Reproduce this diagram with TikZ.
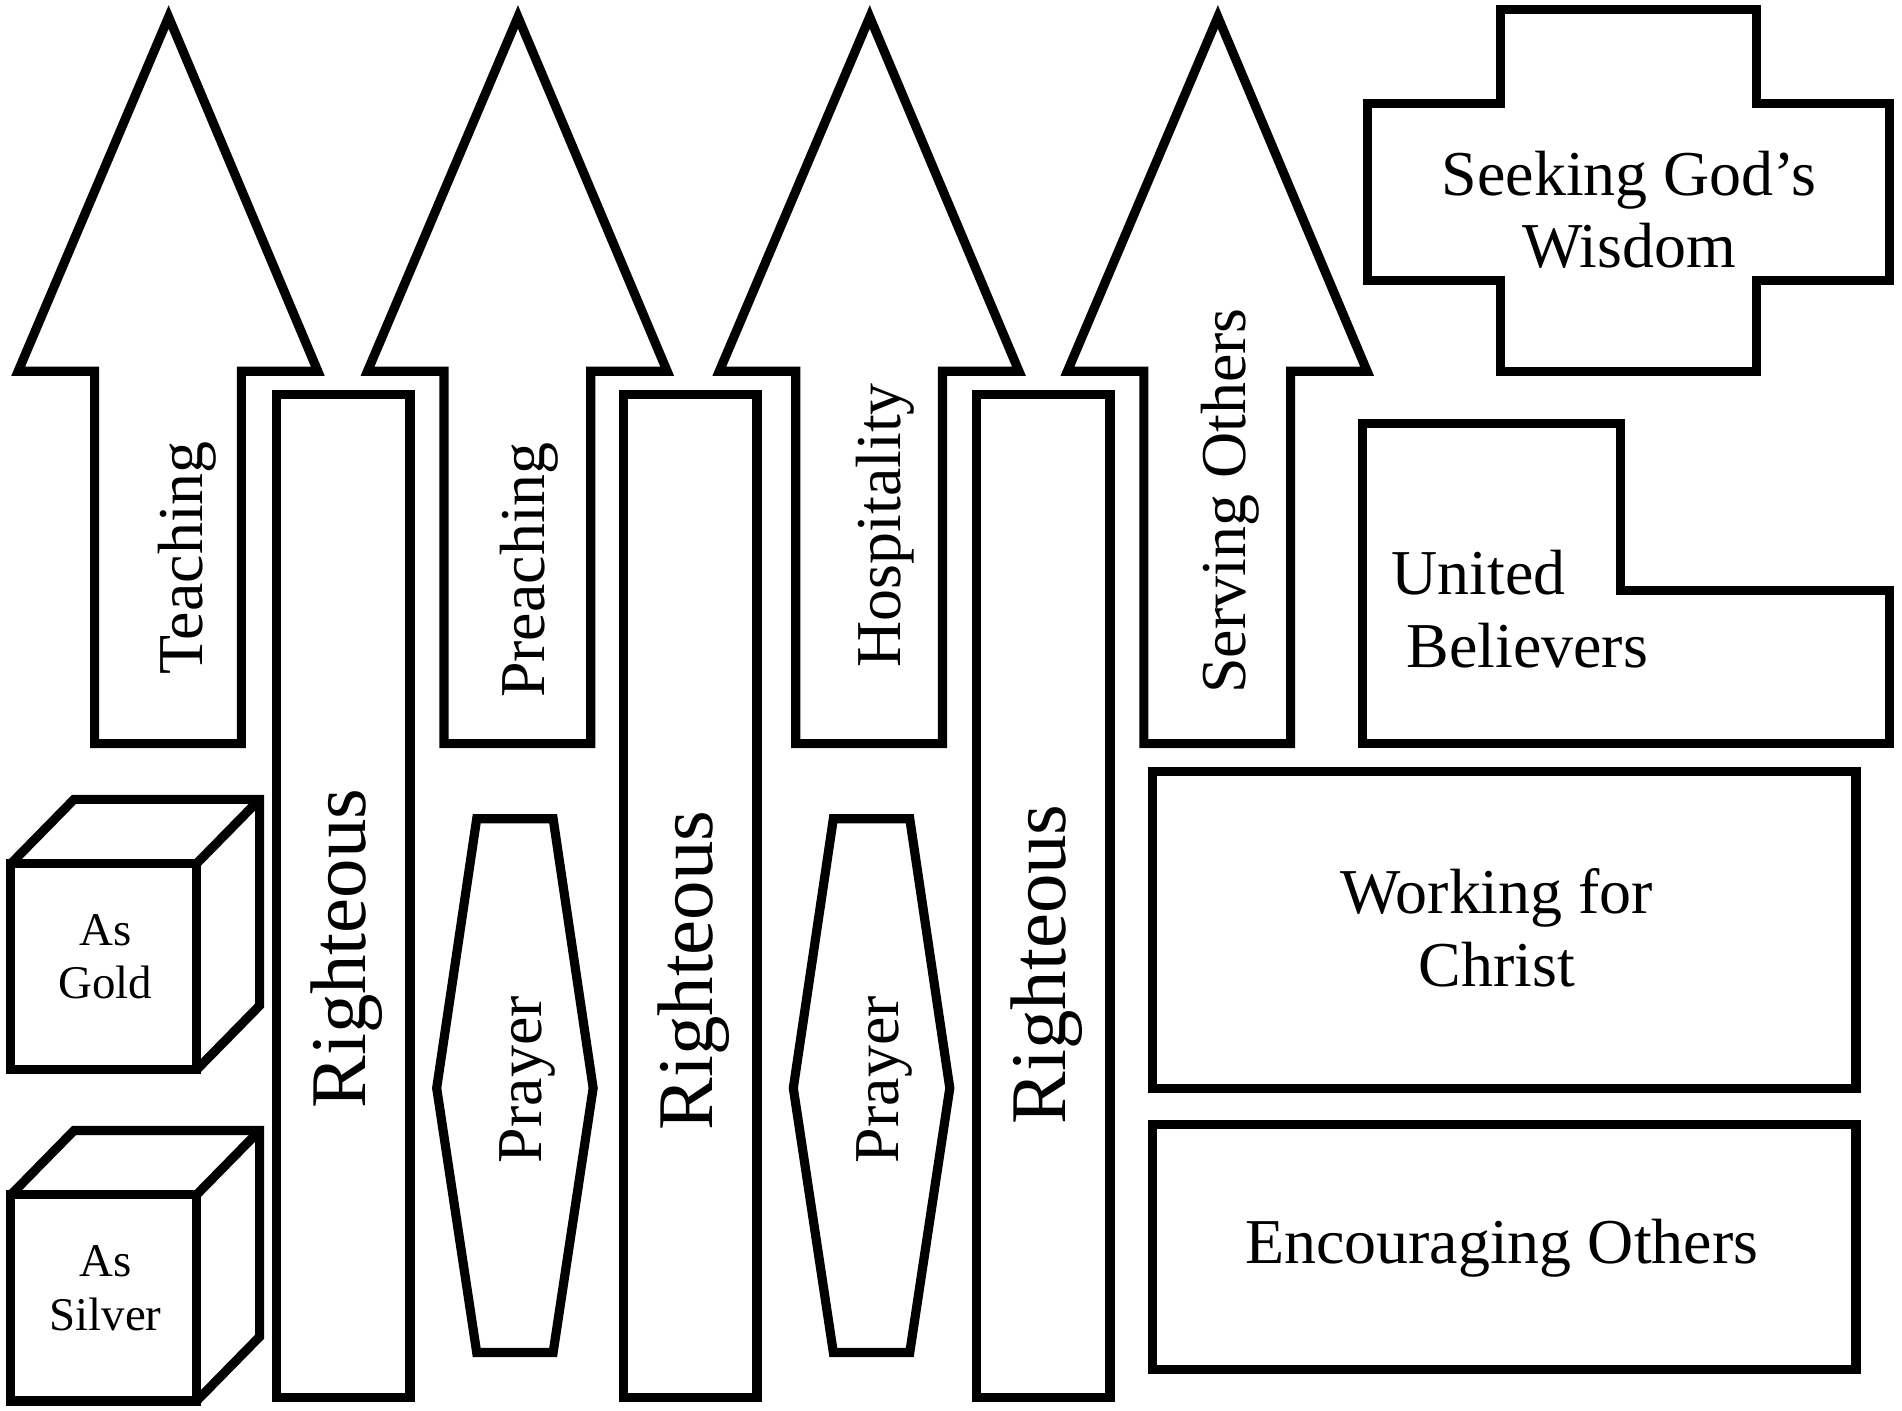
\documentclass[tikz,border=0pt]{standalone}
\usepackage{fontspec}
\setmainfont{Liberation Serif}
\tikzset{
    outline/.style={line width=4.3pt, line join=miter},
    word/.style={font=\fontsize{30}{34}\selectfont, align=center},
    upword/.style={word, rotate=90},
    bigword/.style={font=\fontsize{37}{42}\selectfont, rotate=90},
    smallword/.style={font=\fontsize{22}{25}\selectfont, align=center}
}

\begin{document}
\begin{tikzpicture}[x=0.02cm, y=-0.02cm]
\fill[white](0,0) rectangle (1568,1163);
\useasboundingbox (0,0) rectangle (1568,1163);
\foreach \x/\cx/\cy/\lab/\nm in {15/154/460/Teaching/teach, 303/436/470/Preaching/preach, 593/730/433/Hospitality/hosp, 880/1014/413/Serving Others/serve}
{
    \draw[outline](\x,306)--(\x+124,14)--(\x+247,306)--(\x+184,306)--(\x+184,613)--(\x+63,613)--(\x+63,306)--cycle;
    \node[upword] (\nm) at (\cx,\cy) {\lab};
}
\foreach \x/\cy/\nm in {228/782/right1, 514/800/right2, 805/795/right3}
{
    \draw[outline](\x,325) rectangle (\x+110,1152);
    \node[bigword] (\nm) at (\x+58,\cy) {Righteous};
}
\foreach \x/\nm in {360/pray1, 654/pray2}
{
    \draw[outline](\x,897)--(\x+33,675)--(\x+96,675)--(\x+129,897)--(\x+96,1115)--(\x+33,1115)--cycle;
    \node[upword] (\nm) at (\x+75,890) {Prayer};
}
\foreach \y/\lab/\nm in {712/Gold/gold, 985/Silver/silver}
{
    \draw[outline](9,\y) rectangle (162,\y+170);
    \draw[outline](9,\y)--(61,\y-53)--(214,\y-53)--(214,\y+117)--(162,\y+170);
    \draw[outline](162,\y)--(214,\y-53);
    \node[smallword] (\nm) at (87,\y+77) {As\\\lab};
}
\draw[outline](1237,8)--(1448,8)--(1448,85)--(1558,85)--(1558,231)--(1448,231)--(1448,306)--(1237,306)--(1237,231)--(1127,231)--(1127,85)--(1237,85)--cycle;
\node[word] (wisdom) at (1343,173) {Seeking God’s\\Wisdom};
\draw[outline](1123,349)--(1336,349)--(1336,487)--(1558,487)--(1558,613)--(1123,613)--cycle;
\node[word, align=left, anchor=west] (united) at (1141,502) {United\\\hspace*{7pt}Believers};
\draw[outline](950,636) rectangle (1530,897);
\node[word] (working) at (1234,765) {Working for\\Christ};
\draw[outline](950,927) rectangle (1530,1129);
\node[word] (encourage) at (1238,1029) {Encouraging Others};
\end{tikzpicture}
\end{document}
